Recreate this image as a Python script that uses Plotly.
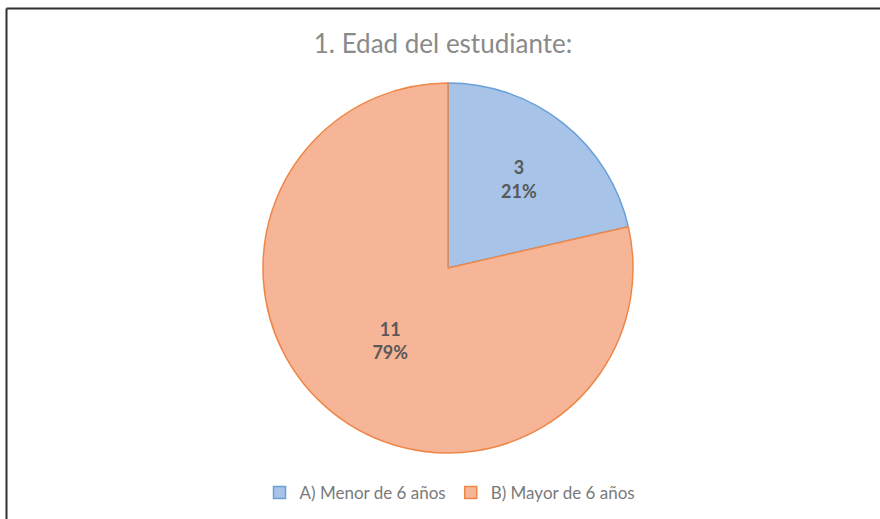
import plotly.graph_objects as go

categories = ["A) Menor de 6 años", "B) Mayor de 6 años"]
counts = [3, 11]
title_text = "1. Edad del estudiante:"

fill_colors = ["#A7C3E7", "#F6B597"]
line_colors = ["#6A9FD8", "#EE8747"]

W, H = 880, 519
cx, cy, R = 448, 268, 185
FONT = "Lato, Open Sans, sans-serif"

fig = go.Figure(go.Pie(
    labels=categories,
    values=counts,
    sort=False,
    direction="clockwise",
    rotation=0,
    marker=dict(colors=fill_colors, line=dict(color=line_colors, width=1.5)),
    texttemplate="<b>%{value}<br>%{percent:.0%}</b>",
    textposition="inside",
    insidetextorientation="horizontal",
    textfont=dict(family=FONT, size=18, color="#595959"),
    hoverinfo="label+value+percent",
    domain=dict(x=[(cx - R) / W, (cx + R) / W], y=[1 - (cy + R) / H, 1 - (cy - R) / H]),
))

fig.update_layout(
    width=W, height=H,
    margin=dict(l=0, r=0, t=0, b=0),
    paper_bgcolor="white",
    plot_bgcolor="white",
    title=dict(text=title_text, x=443 / W, xanchor="center", y=1 - 44 / H, yanchor="middle",
               font=dict(family=FONT, size=26, color="#8A8A8A")),
    legend=dict(orientation="h", x=450 / W, xanchor="center", y=1 - 493 / H, yanchor="middle",
                font=dict(family=FONT, size=17, color="#7A7A7A"),
                itemwidth=30, traceorder="normal"),
    shapes=[
        dict(type="line", xref="paper", yref="paper", x0=6.5 / W, x1=1.01, y0=1 - 8.5 / H, y1=1 - 8.5 / H,
             line=dict(color="#303030", width=2)),
        dict(type="line", xref="paper", yref="paper", x0=6.5 / W, x1=6.5 / W, y0=-0.01, y1=1 - 8.5 / H,
             line=dict(color="#303030", width=2)),
    ],
)

fig.write_html("out.html", config={"displayModeBar": False},
               post_script="document.body.style.margin='0';document.body.style.overflow='hidden';")
